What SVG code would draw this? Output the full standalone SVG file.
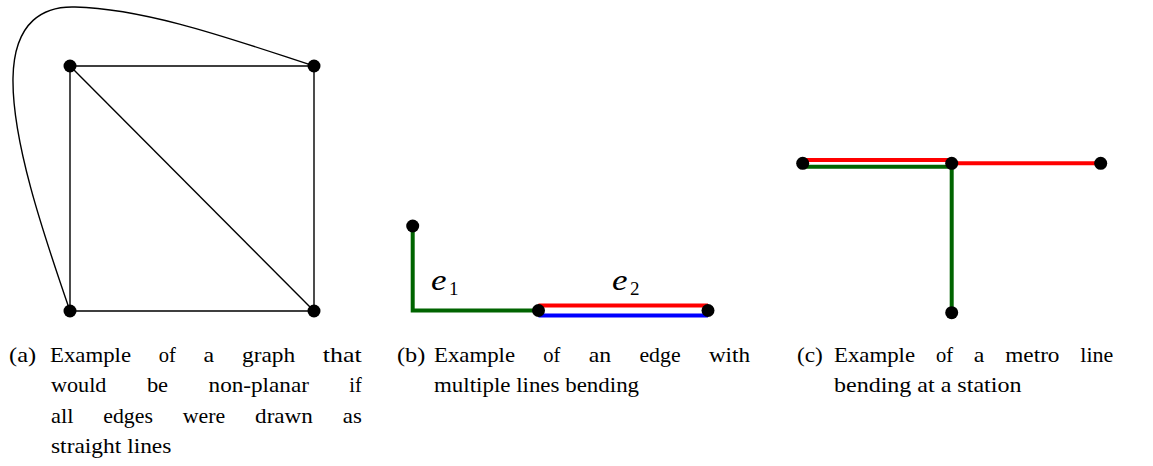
<svg xmlns="http://www.w3.org/2000/svg" width="1153" height="466" viewBox="0 0 1153 466">
<style>
.e{fill:none;stroke:#000;stroke-width:1.4}
.m{fill:none;stroke-width:4;stroke-linecap:butt;stroke-linejoin:miter}
.r{stroke:#ff0000}.g{stroke:#006400}.b{stroke:#0000ff}
.n{fill:#000}
.t{font-family:"Liberation Serif","Times New Roman",serif;font-size:21.5px;fill:#000}
.mi{font-family:"Liberation Serif","Times New Roman",serif;font-style:italic;font-size:30px;fill:#000}
.sub{font-family:"Liberation Serif","Times New Roman",serif;font-size:19px;fill:#000}
</style>
<g id="connectors">
<path class="e" d="M70,311 C42,230 12,140 13,78 C14,20 45,6 75,7 C150,9 240,42 314,66"/>
<path class="e" d="M70,66 H314 V311 H70 Z"/>
<path class="e" d="M70,66 L314,311"/>
<path class="m g" d="M412.7,226 V310.5 H538.5"/>
<path class="m r" d="M538.5,305.5 H708"/>
<path class="m b" d="M538.5,315.5 H708"/>
<path class="m r" d="M802.7,160 H951.7"/>
<path class="m g" d="M802.7,166.7 H951.7 V312.7"/>
<path class="m r" d="M951.7,163.3 H1100.7"/>
</g>
<g id="a1"><circle class="n" cx="70" cy="66" r="6.5"/></g>
<g id="a2"><circle class="n" cx="314" cy="66" r="6.5"/></g>
<g id="a3"><circle class="n" cx="70" cy="311" r="6.5"/></g>
<g id="a4"><circle class="n" cx="314" cy="311" r="6.5"/></g>
<g id="b1"><circle class="n" cx="412.7" cy="226" r="6.5"/></g>
<g id="b2"><circle class="n" cx="538.5" cy="310.5" r="6.5"/></g>
<g id="b3"><circle class="n" cx="708" cy="310.5" r="6.5"/></g>
<g id="c1"><circle class="n" cx="802.7" cy="163.3" r="6.5"/></g>
<g id="c2"><circle class="n" cx="951.7" cy="163.3" r="6.5"/></g>
<g id="c3"><circle class="n" cx="1100.7" cy="163.3" r="6.5"/></g>
<g id="c4"><circle class="n" cx="951.7" cy="312.7" r="6.5"/></g>
<g id="labels">
<text class="mi" x="431" y="290" textLength="15.5" lengthAdjust="spacingAndGlyphs">e</text><text class="sub" x="449" y="294.5">1</text>
<text class="mi" x="612" y="290" textLength="15.5" lengthAdjust="spacingAndGlyphs">e</text><text class="sub" x="630" y="294.5">2</text>
</g>
<g id="caption-a">
<text class="t" x="9" y="361.5" textLength="27.1" lengthAdjust="spacingAndGlyphs">(a)</text>
<text class="t" x="50" y="361.5" textLength="81" lengthAdjust="spacingAndGlyphs">Example</text>
<text class="t" x="158.8" y="361.5" textLength="17.1" lengthAdjust="spacingAndGlyphs">of</text>
<text class="t" x="203.6" y="361.5" textLength="10.6" lengthAdjust="spacingAndGlyphs">a</text>
<text class="t" x="242" y="361.5" textLength="53.1" lengthAdjust="spacingAndGlyphs">graph</text>
<text class="t" x="322.8" y="361.5" textLength="38.9" lengthAdjust="spacingAndGlyphs">that</text>
<text class="t" x="51" y="392" textLength="55.4" lengthAdjust="spacingAndGlyphs">would</text>
<text class="t" x="146.9" y="392" textLength="21.2" lengthAdjust="spacingAndGlyphs">be</text>
<text class="t" x="208.6" y="392" textLength="100.3" lengthAdjust="spacingAndGlyphs">non-planar</text>
<text class="t" x="349.3" y="392" textLength="12.4" lengthAdjust="spacingAndGlyphs">if</text>
<text class="t" x="51" y="422.5" textLength="22.4" lengthAdjust="spacingAndGlyphs">all</text>
<text class="t" x="103.3" y="422.5" textLength="49.6" lengthAdjust="spacingAndGlyphs">edges</text>
<text class="t" x="182.8" y="422.5" textLength="42.4" lengthAdjust="spacingAndGlyphs">were</text>
<text class="t" x="255.1" y="422.5" textLength="57.8" lengthAdjust="spacingAndGlyphs">drawn</text>
<text class="t" x="342.8" y="422.5" textLength="19" lengthAdjust="spacingAndGlyphs">as</text>
<text class="t" x="51" y="453" textLength="120.4" lengthAdjust="spacingAndGlyphs">straight lines</text>
</g>
<g id="caption-b">
<text class="t" x="397" y="361.7" textLength="28.3" lengthAdjust="spacingAndGlyphs">(b)</text>
<text class="t" x="434" y="361.7" textLength="81" lengthAdjust="spacingAndGlyphs">Example</text>
<text class="t" x="543.3" y="361.7" textLength="17.1" lengthAdjust="spacingAndGlyphs">of</text>
<text class="t" x="588.7" y="361.7" textLength="22.4" lengthAdjust="spacingAndGlyphs">an</text>
<text class="t" x="639.4" y="361.7" textLength="41.2" lengthAdjust="spacingAndGlyphs">edge</text>
<text class="t" x="708.9" y="361.7" textLength="41.2" lengthAdjust="spacingAndGlyphs">with</text>
<text class="t" x="434" y="392" textLength="205.1" lengthAdjust="spacingAndGlyphs">multiple lines bending</text>
</g>
<g id="caption-c">
<text class="t" x="797" y="361.7" textLength="25.9" lengthAdjust="spacingAndGlyphs">(c)</text>
<text class="t" x="834" y="361.7" textLength="81" lengthAdjust="spacingAndGlyphs">Example</text>
<text class="t" x="935.9" y="361.7" textLength="17.1" lengthAdjust="spacingAndGlyphs">of</text>
<text class="t" x="973.8" y="361.7" textLength="10.6" lengthAdjust="spacingAndGlyphs">a</text>
<text class="t" x="1005.3" y="361.7" textLength="54.2" lengthAdjust="spacingAndGlyphs">metro</text>
<text class="t" x="1080.3" y="361.7" textLength="33" lengthAdjust="spacingAndGlyphs">line</text>
<text class="t" x="834" y="392" textLength="187.4" lengthAdjust="spacingAndGlyphs">bending at a station</text>
</g>
</svg>
